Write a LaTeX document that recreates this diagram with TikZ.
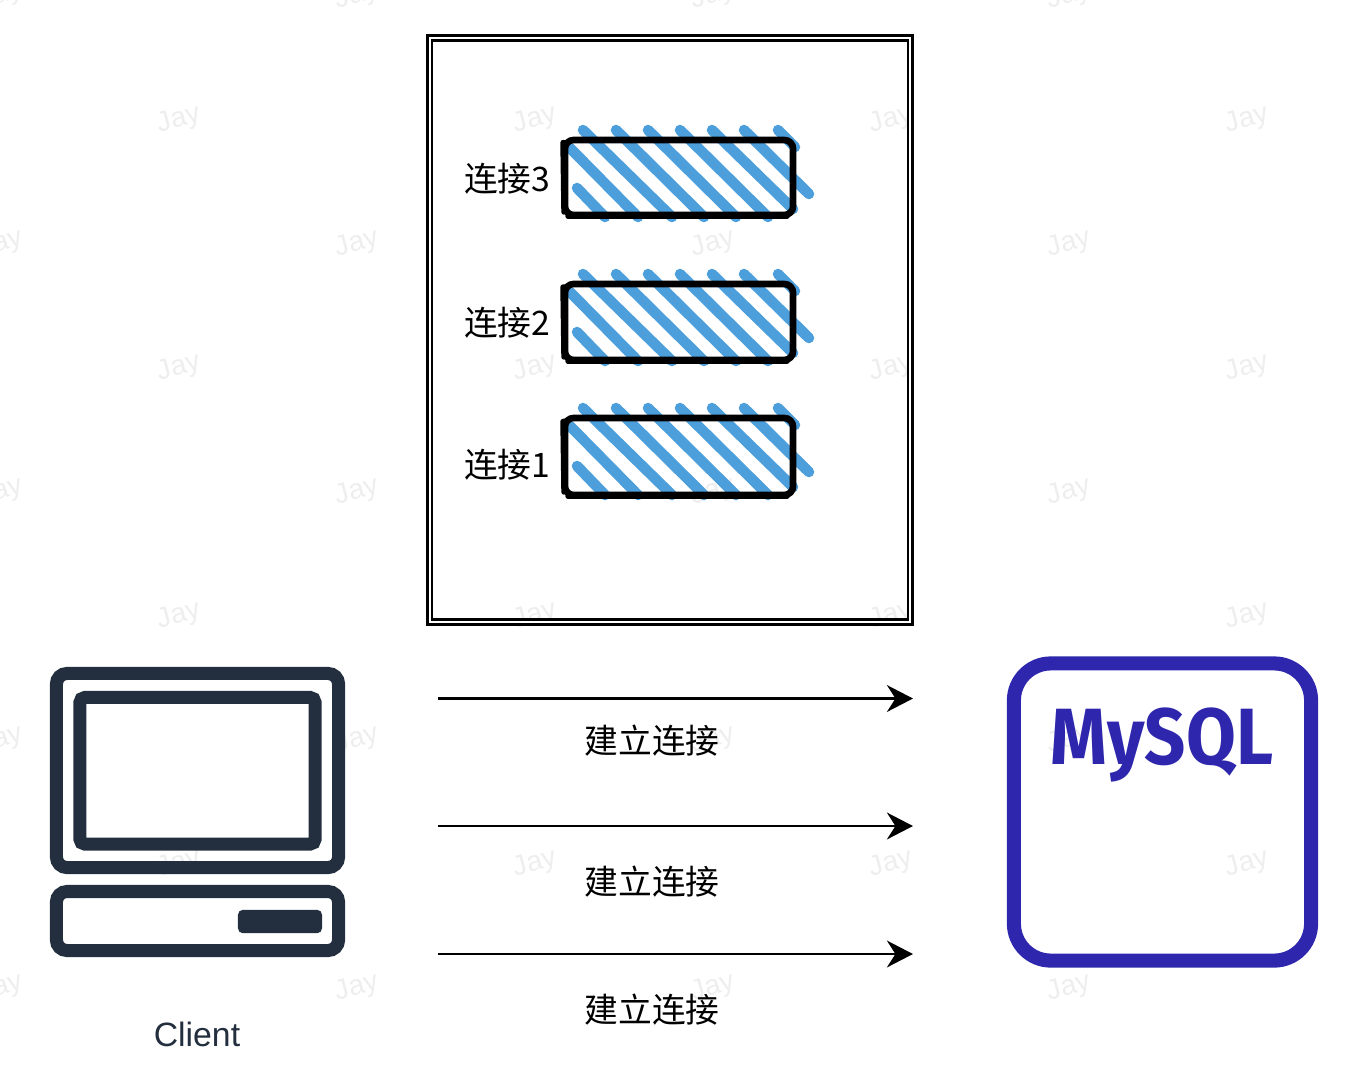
\documentclass[tikz,border=0pt]{standalone}
\usepackage{fontspec}
\setmainfont{Liberation Sans}
\newfontfamily\cjk{Noto Sans CJK SC}
\newfontfamily\logofont{Fira Sans}
\usetikzlibrary{arrows.meta}
\definecolor{iconink}{HTML}{232F3E}
\definecolor{dbink}{HTML}{2E27AD}
\definecolor{hatchblue}{HTML}{4D9FDC}
\definecolor{markgray}{HTML}{EEEEEF}
\tikzset{
  mark text/.style={text=markgray,font=\fontsize{8}{10}\selectfont,rotate=15},
  frame/.style={draw,double,line width=0.75pt,double distance=0.6pt,outer sep=0pt,minimum width=4.805cm,minimum height=5.835cm},
  hatch/.style={hatchblue,line width=3pt,line cap=round},
  conn box/.style={draw,line width=1.9pt,rounded corners=2.5pt,outer sep=0pt,minimum width=2.28cm},
  conn trace/.style={line width=1.5pt,line cap=round,line join=round},
  label text/.style={font=\fontsize{9.6}{12}\selectfont\cjk,inner sep=0pt},
  icon box/.style={draw=iconink,line width=3.7pt,outer sep=0pt},
  link/.style={line width=0.75pt,-{Stealth[length=7.4pt,width=7.6pt]}}
}
\begin{document}
\begin{tikzpicture}[x=0.01cm,y=-0.01cm]
\useasboundingbox (0,0) rectangle (1360,1084);
\foreach \x in {178,534,890,1246} \foreach \y in {118,366,614,862}
  \node[mark text] (jay\x\y) at (\x+1,\y+2) {Jay};
\foreach \x in {0,356,712,1068} \foreach \y in {-6,242,490,738,986}
  \node[mark text] (jay\x\y) at (\x+1,\y+2) {Jay};

\node[frame] (pool) at (670,330) {};

\foreach \y in {140,284,418}
  \foreach \sx/\sy/\ex/\ey in {12/48/40/77,5/8/73/77,18/-10/107/77,51/-10/139/77,83/-10/171/77,115/-10/203/77,147/-10/228/69,179/-10/244/54,213/-10/230/7}
    \draw[hatch] (565+\sx,\y+\sy) -- (565+\ex,\y+\ey);

\node[conn box,minimum height=0.75cm] (conn3) at (679,177.5) {};
\node[conn box,minimum height=0.76cm] (conn2) at (679,322) {};
\node[conn box,minimum height=0.77cm] (conn1) at (679,456.5) {};
\foreach \n in {conn3,conn2,conn1} {
  \draw[conn trace] ([shift={(-1,-3)}]\n.south west) -- ([shift={(-2,-35)}]\n.west) -- ([shift={(1,3)}]\n.north west);
  \draw[conn trace] ([shift={(3,1)}]\n.south west) -- ([shift={(0,1)}]\n.south) -- ([shift={(-6,1)}]\n.south east);
}
\node[label text,anchor=east] (name3) at (551,179) {连接3};
\node[label text,anchor=east] (name2) at (551,323) {连接2};
\node[label text,anchor=east] (name1) at (551,465) {连接1};

\node[icon box,rounded corners=3pt,minimum width=2.82cm,minimum height=1.94cm] (monitor) at (197.5,770.5) {};
\node[icon box,rounded corners=1.4pt,minimum width=2.35cm,minimum height=1.465cm] (screen) at (197.5,770.75) {};
\node[icon box,rounded corners=3pt,minimum width=2.82cm,minimum height=0.59cm] (base) at (197.5,921) {};
\node[fill=iconink,rounded corners=1.4pt,outer sep=0pt,minimum width=0.84cm,minimum height=0.23cm] (slot) at (280,921.5) {};
\node[text=iconink,font=\fontsize{9.6}{12}\selectfont,inner sep=0pt] (client) at (197,1034) {Client};

\node[draw=dbink,line width=4pt,rounded corners=10.5pt,outer sep=0pt,minimum size=2.97cm] (mysql) at (1162.5,812) {};
\node[text=dbink,font=\fontsize{22.7}{26}\selectfont\logofont\bfseries,inner sep=0pt,xscale=0.905] (logo) at (1162,745) {MySQL};

\foreach \y/\n in {698.5/1,826/2,954/3} {
  \coordinate (from\n) at (438,\y);
  \coordinate (to\n) at (913,\y);
  \draw[link] (from\n) -- (to\n);
}
\node[label text] (open1) at (652,741) {建立连接};
\node[label text] (open2) at (652,882) {建立连接};
\node[label text] (open3) at (652,1010) {建立连接};
\end{tikzpicture}
\end{document}
